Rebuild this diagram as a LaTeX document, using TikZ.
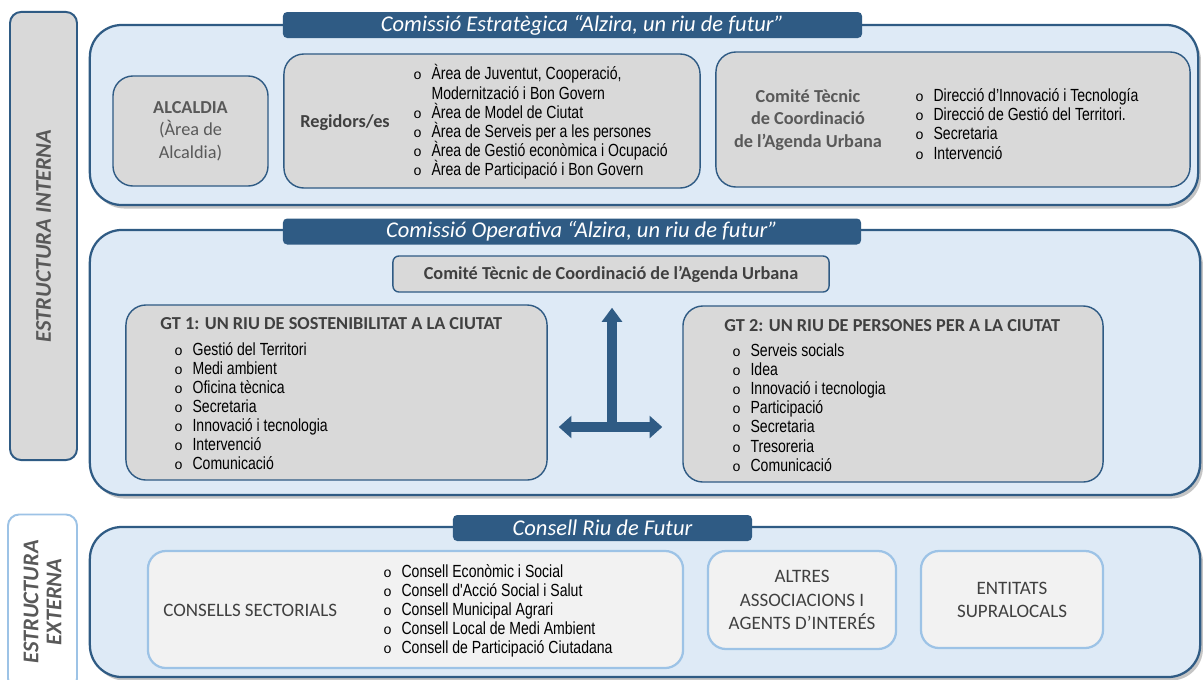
\documentclass[tikz,border=0pt]{standalone}
\usepackage{fontspec}
\setmainfont{Carlito}
\newfontfamily\narrowfont[FakeStretch=0.8]{Liberation Sans}
\newfontfamily\bulletfont{Liberation Mono}
\usetikzlibrary{
	arrows.meta,
	positioning,
	shadows,
	calc,
}
\definecolor{MyNavy}{HTML}{2F5B84}
\definecolor{MyPale}{HTML}{DEEAF6}
\definecolor{MyGrey}{HTML}{D9D9D9}
\definecolor{MyLight}{HTML}{F2F2F2}
\definecolor{MySky}{HTML}{9DC3E6}
\definecolor{MyInk}{HTML}{404040}
\definecolor{MySoft}{HTML}{595959}
\newcommand{\blt}{{\bulletfont\fontsize{10}{10}\selectfont o}\hspace{7pt}}
\newcommand{\cont}{\hphantom{\blt}}
\tikzset{every picture/.style={/utils/exec={\lineskiplimit=-20pt}}}

\begin{document}
\begin{tikzpicture}[
		x=0.025cm, y=-0.025cm,
		every node/.style={align=center,inner sep=0pt},
		outer/.style={draw=MyNavy,line width=1.6pt,fill=MyPale,rounded corners=0.8cm,
			drop shadow={shadow xshift=2pt,shadow yshift=-2.5pt,opacity=0.45}},
		tab/.style={fill=MyNavy,rounded corners=3pt,minimum height=0.65cm,text=white,
			font=\itshape\fontsize{16}{18}\selectfont},
		box/.style={draw=MyNavy,line width=1pt,fill=MyGrey,rounded corners=0.5cm},
		softbox/.style={draw=MySky,line width=1.6pt,fill=MyLight,rounded corners=0.45cm,
			text=MyInk,font=\fontsize{13.5}{16.5}\selectfont},
		side/.style={rotate=90,rounded corners=0.28cm,line width=1.4pt,text=MySoft,
			font=\bfseries\itshape\fontsize{16}{16.5}\selectfont},
		title/.style={text=MyInk,font=\bfseries\fontsize{13}{16}\selectfont},
		list/.style={align=left,font=\narrowfont\fontsize{12.5}{13.6}\selectfont},
		bigarrow/.style={draw=MyNavy,line width=6.5pt,-{Triangle[width=14pt,length=10pt]}},
	]
	\path[use as bounding box,clip] (0,0) rectangle (1203,679);
	\fill[white] (0,0) rectangle (1203,679);

	% side labels
	\node (intern) [side,draw=MyNavy,fill=MyGrey,minimum width=11.2cm,minimum height=1.675cm] at (43.5,236) {ESTRUCTURA INTERNA};
	\node (extern) [side,draw=MySky,fill=white,minimum width=4.375cm,minimum height=1.725cm] at (42.5,602) {ESTRUCTURA\\EXTERNA};

	% comissio estrategica
	\node (estrat) [outer,minimum width=27.7cm,minimum height=4.5cm] at (644,115) {};
	\node (estratTab) [tab,minimum width=14.475cm] at (572.5,25) {\hspace{0.5cm}Comissió Estratègica “Alzira, un riu de futur”};
	\node (alcaldia) [box,minimum width=3.875cm,minimum height=2.75cm,text=MySoft,font=\fontsize{13}{16}\selectfont] at (190.5,131) {\textbf{ALCALDIA}\\(Àrea de\\Alcaldia)};
	\node (regidors) [box,minimum width=10.4cm,minimum height=3.35cm] at (492,121) {};
	\node (regidorsT) [title,anchor=west] at (300,123) {Regidors/es};
	\node (regidorsL) [list,anchor=west] at (413,122) {\blt Àrea de Juventut, Cooperació,\\
		\cont Modernització i Bon Govern\\
		\blt Àrea de Model de Ciutat\\
		\blt Àrea de Serveis per a les persones\\
		\blt Àrea de Gestió econòmica i Ocupació\\
		\blt Àrea de Participació i Bon Govern};
	\node (comite) [box,minimum width=11.85cm,minimum height=3.375cm] at (953,119.5) {};
	\node (comiteT) [title,text=MySoft] at (808,120) {Comité Tècnic\\de Coordinació\\de l’Agenda Urbana};
	\node (comiteL) [list,anchor=west] at (915,124) {\blt Direcció d’Innovació i Tecnología\\
		\blt Direcció de Gestió del Territori.\\
		\blt Secretaria\\
		\blt Intervenció};

	% comissio operativa
	\node (operat) [outer,minimum width=27.75cm,minimum height=6.625cm] at (645,362.5) {};
	\node (operatTab) [tab,minimum width=14.45cm] at (572,231.5) {\hspace{0.5cm}Comissió Operativa “Alzira, un riu de futur”};
	\node (coord) [box,title,rounded corners=0.15cm,minimum width=10.9cm,minimum height=0.9cm] at (611,274) {Comité Tècnic de Coordinació de l’Agenda Urbana};
	\node (gt1) [box,minimum width=10.525cm,minimum height=4.375cm] at (336.5,392.5) {};
	\node (gt1T) [title,anchor=west] at (160,324) {GT 1: UN RIU DE SOSTENIBILITAT A LA CIUTAT};
	\node (gt1L) [list,anchor=west] at (174,406) {\blt Gestió del Territori\\
		\blt Medi ambient\\
		\blt Oficina tècnica\\
		\blt Secretaria\\
		\blt Innovació i tecnologia\\
		\blt Intervenció\\
		\blt Comunicació};
	\node (gt2) [box,minimum width=10.5cm,minimum height=4.4cm] at (893,394) {};
	\node (gt2T) [title,anchor=west] at (724,326) {GT 2: UN RIU DE PERSONES PER A LA CIUTAT};
	\node (gt2L) [list,anchor=west] at (732,407.5) {\blt Serveis socials\\
		\blt Idea\\
		\blt Innovació i tecnologia\\
		\blt Participació\\
		\blt Secretaria\\
		\blt Tresoreria\\
		\blt Comunicació};
	\coordinate (hub) at (612,427);
	\draw[bigarrow,shorten >=0.375cm] (hub) -- (hub |- coord.south);
	\draw[bigarrow,{Triangle[width=15.5pt,length=9pt]}-{Triangle[width=15.5pt,length=9pt]},shorten <=0.275cm,shorten >=0.5cm] (gt1.east |- hub) -- (gt2.west |- hub);

	% consell riu de futur
	\node (consell) [outer,minimum width=27.75cm,minimum height=3.75cm] at (645,602) {};
	\node (consellTab) [tab,minimum width=7.475cm] at (602.5,528) {Consell Riu de Futur};
	\node (sector) [softbox,minimum width=13.375cm,minimum height=2.925cm] at (415.5,609.5) {};
	\node (sectorT) [anchor=west,text=MyInk,font=\fontsize{13.5}{16.5}\selectfont] at (163,610) {CONSELLS SECTORIALS};
	\node (sectorL) [list,anchor=west] at (383,611) {\blt Consell Econòmic i Social\\
		\blt Consell d'Acció Social i Salut\\
		\blt Consell Municipal Agrari\\
		\blt Consell Local de Medi Ambient\\
		\blt Consell de Participació Ciutadana};
	\node (altres) [softbox,minimum width=4.7cm,minimum height=2.45cm] at (802,600) {ALTRES\\ASSOCIACIONS I\\AGENTS D’INTERÉS};
	\node (entitats) [softbox,minimum width=4.55cm,minimum height=2.425cm] at (1012,599.5) {ENTITATS\\SUPRALOCALS};
\end{tikzpicture}
\end{document}
